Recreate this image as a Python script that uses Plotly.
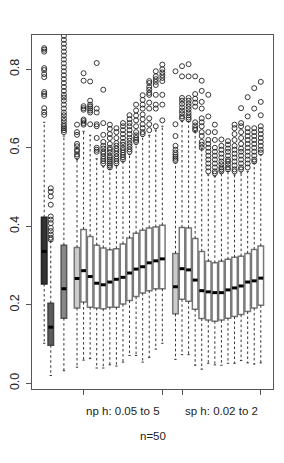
import plotly.graph_objects as go

# ---------------- data ----------------
positions = [1, 2, 4] + list(range(6, 20)) + list(range(21, 35))

q1 = [0.253, 0.097, 0.166,
      0.192, 0.207, 0.194, 0.192, 0.190, 0.194, 0.194, 0.202, 0.211, 0.221, 0.230, 0.236, 0.241, 0.241,
      0.177, 0.214, 0.209, 0.189, 0.165, 0.161, 0.158, 0.161, 0.166, 0.170, 0.175, 0.183, 0.192, 0.199]
medians = [0.336, 0.143, 0.241,
           0.267, 0.287, 0.272, 0.255, 0.251, 0.258, 0.265, 0.270, 0.281, 0.291, 0.297, 0.307, 0.312, 0.317,
           0.246, 0.292, 0.289, 0.263, 0.236, 0.233, 0.231, 0.231, 0.238, 0.243, 0.248, 0.258, 0.261, 0.268]
q3 = [0.423, 0.204, 0.352,
      0.346, 0.392, 0.374, 0.352, 0.345, 0.340, 0.343, 0.355, 0.370, 0.382, 0.390, 0.396, 0.398, 0.403,
      0.331, 0.397, 0.396, 0.369, 0.336, 0.311, 0.307, 0.311, 0.316, 0.321, 0.324, 0.331, 0.341, 0.350]
lower_whisker = [0.102, 0.020, 0.032,
                 0.041, 0.059, 0.063, 0.039, 0.039, 0.047, 0.044, 0.054, 0.071, 0.071, 0.054, 0.066, 0.087, 0.102,
                 0.061, 0.073, 0.073, 0.046, 0.036, 0.051, 0.047, 0.046, 0.051, 0.051, 0.058, 0.052, 0.049, 0.052]
upper_whisker = [0.665, 0.362, 0.630,
                 0.570, 0.642, 0.632, 0.572, 0.552, 0.546, 0.555, 0.566, 0.583, 0.609, 0.629, 0.632, 0.645, 0.655,
                 0.561, 0.667, 0.667, 0.642, 0.598, 0.531, 0.527, 0.536, 0.540, 0.531, 0.536, 0.540, 0.561, 0.582]

outliers = [
    [0.854, 0.850, 0.845, 0.803, 0.798, 0.788, 0.780, 0.742, 0.737, 0.732, 0.701, 0.691, 0.684],
    [0.497, 0.488, 0.476, 0.455, 0.425, 0.417, 0.408, 0.396, 0.388, 0.379, 0.371, 0.366],
    [0.640, 0.645, 0.650, 0.655, 0.660, 0.668, 0.675, 0.683, 0.690, 0.700, 0.710, 0.720, 0.728, 0.735,
     0.745, 0.755, 0.765, 0.775, 0.785, 0.795, 0.805, 0.815, 0.825, 0.835, 0.845, 0.855, 0.865, 0.875, 0.885],
    # np h
    [0.659, 0.640, 0.633, 0.610, 0.604, 0.595, 0.591, 0.583, 0.578],
    [0.790, 0.771, 0.706, 0.701, 0.697, 0.672, 0.668, 0.663, 0.659],
    [0.769, 0.720, 0.710, 0.705, 0.700, 0.695, 0.690, 0.660],
    [0.816, 0.700, 0.690, 0.660, 0.655, 0.625, 0.600, 0.595, 0.590],
    [0.748, 0.663, 0.633, 0.615, 0.605, 0.598, 0.590, 0.585, 0.578, 0.572, 0.566, 0.560],
    [0.659, 0.648, 0.635, 0.625, 0.610, 0.600, 0.595, 0.588, 0.580, 0.575, 0.570, 0.565, 0.560, 0.555, 0.550],
    [0.650, 0.640, 0.625, 0.612, 0.605, 0.598, 0.592, 0.585, 0.578, 0.572, 0.566, 0.560],
    [0.663, 0.655, 0.645, 0.635, 0.625, 0.615, 0.608, 0.600, 0.594, 0.588, 0.582, 0.576, 0.570],
    [0.683, 0.673, 0.663, 0.655, 0.645, 0.635, 0.625, 0.618, 0.610, 0.603, 0.596, 0.590],
    [0.710, 0.695, 0.682, 0.670, 0.655, 0.640, 0.632, 0.625, 0.620, 0.615],
    [0.734, 0.722, 0.710, 0.700, 0.685, 0.673, 0.660, 0.650, 0.640, 0.635],
    [0.770, 0.765, 0.755, 0.748, 0.740, 0.735, 0.715, 0.700, 0.675, 0.660, 0.645],
    [0.795, 0.782, 0.775, 0.768, 0.760, 0.735, 0.710, 0.700, 0.655],
    [0.812, 0.800, 0.792, 0.785, 0.778, 0.770, 0.735, 0.710, 0.670],
    # sp h
    [0.795, 0.660, 0.630, 0.605, 0.595, 0.588, 0.582, 0.577, 0.572, 0.567],
    [0.808, 0.782, 0.727, 0.720, 0.712, 0.703, 0.695, 0.688, 0.680, 0.675],
    [0.813, 0.782, 0.727, 0.720, 0.712, 0.705, 0.698, 0.690, 0.683, 0.677, 0.672],
    [0.782, 0.737, 0.725, 0.715, 0.705, 0.665, 0.657, 0.650, 0.645],
    [0.771, 0.745, 0.717, 0.700, 0.675, 0.665, 0.655, 0.640, 0.630, 0.615, 0.608, 0.600],
    [0.735, 0.680, 0.640, 0.620, 0.610, 0.600, 0.590, 0.580, 0.570, 0.560, 0.550, 0.540],
    [0.659, 0.640, 0.620, 0.600, 0.590, 0.580, 0.570, 0.560, 0.550, 0.540, 0.535],
    [0.621, 0.605, 0.595, 0.585, 0.575, 0.565, 0.558, 0.550, 0.545, 0.540],
    [0.617, 0.608, 0.598, 0.590, 0.580, 0.570, 0.565, 0.558, 0.550, 0.545],
    [0.659, 0.650, 0.635, 0.620, 0.605, 0.595, 0.585, 0.575, 0.565, 0.555, 0.545, 0.540],
    [0.701, 0.663, 0.655, 0.640, 0.625, 0.610, 0.598, 0.590, 0.580, 0.570, 0.560, 0.550, 0.545],
    [0.729, 0.680, 0.650, 0.640, 0.630, 0.620, 0.610, 0.600, 0.590, 0.580, 0.570, 0.560, 0.550],
    [0.752, 0.700, 0.650, 0.640, 0.630, 0.620, 0.610, 0.600, 0.590, 0.580, 0.570, 0.565],
    [0.768, 0.717, 0.683, 0.655, 0.645, 0.635, 0.625, 0.615, 0.605, 0.595, 0.588],
]

fill_colors = ["#333333", "#5c5c5c", "#878787"] + ["#cccccc"] + ["#ffffff"] * 13 + ["#cccccc"] + ["#ffffff"] * 13
line_colors = ["#222222", "#444444", "#555555"] + ["#777777"] * 28

axis_ticks = [7, 19, 22, 34]
group_labels = ["np h: 0.05 to 5", "sp h: 0.02 to 2"]
group_label_pos = [13, 28]
y_ticks = [0.0, 0.2, 0.4, 0.6, 0.8]
y_tick_labels = ["0.0", "0.2", "0.4", "0.6", "0.8"]
footer = "n=50"

BOX_W = 0.84
STAPLE_W = 0.35
FONT = "Liberation Sans, Arial, sans-serif"
FS = 11.5

fig = go.Figure()

# whiskers (dashed) + staples
wx, wy, sx, sy = [], [], [], []
for p, a, b, lo, hi in zip(positions, q1, q3, lower_whisker, upper_whisker):
    wx += [p, p, None, p, p, None]
    wy += [b, hi, None, a, lo, None]
    sx += [p - STAPLE_W / 2, p + STAPLE_W / 2, None, p - STAPLE_W / 2, p + STAPLE_W / 2, None]
    sy += [hi, hi, None, lo, lo, None]
fig.add_trace(go.Scatter(x=wx, y=wy, mode="lines", hoverinfo="skip",
                         line=dict(color="#333333", width=1, dash="2.5px,2.5px"), showlegend=False))
fig.add_trace(go.Scatter(x=sx, y=sy, mode="lines", hoverinfo="skip",
                         line=dict(color="#333333", width=1), showlegend=False))

# boxes
for i, p in enumerate(positions):
    fig.add_trace(go.Box(
        x=[p], q1=[q1[i]], median=[medians[i]], q3=[q3[i]],
        lowerfence=[q1[i]], upperfence=[q3[i]],
        width=BOX_W, fillcolor=fill_colors[i],
        line=dict(color=line_colors[i], width=1.5),
        whiskerwidth=0, boxpoints=False, showlegend=False, hoverinfo="skip",
    ))

# medians (thick black)
mx, my = [], []
for p, m in zip(positions, medians):
    mx += [p - BOX_W / 2 + 0.05, p + BOX_W / 2 - 0.05, None]
    my += [m, m, None]
fig.add_trace(go.Scatter(x=mx, y=my, mode="lines", hoverinfo="skip",
                         line=dict(color="#000000", width=3), showlegend=False))

# outliers
ox, oy = [], []
for p, vals in zip(positions, outliers):
    ox += [p] * len(vals)
    oy += vals
fig.add_trace(go.Scatter(x=ox, y=oy, mode="markers", hoverinfo="skip", cliponaxis=True,
                         marker=dict(symbol="circle-open", size=5, color="#222222",
                                     line=dict(width=0.9, color="#222222")),
                         showlegend=False))

annotations = []
for lab, xp in zip(group_labels, group_label_pos):
    annotations.append(dict(x=xp, y=-0.061, xref="x", yref="paper", text=lab, showarrow=False,
                            xanchor="center", yanchor="middle",
                            font=dict(family=FONT, size=FS, color="#222222")))
annotations.append(dict(x=0.5, y=-0.133, xref="paper", yref="paper", text=footer, showarrow=False,
                        xanchor="center", yanchor="middle",
                        font=dict(family=FONT, size=FS, color="#222222")))

fig.update_layout(
    width=284, height=463,
    margin=dict(l=24, r=19, t=27, b=82, autoexpand=False),
    paper_bgcolor="white", plot_bgcolor="white",
    font=dict(family=FONT, size=FS, color="#222222"),
    annotations=annotations,
    xaxis=dict(range=[-0.86, 35.86], showgrid=False, zeroline=False, automargin=False,
               showline=True, mirror=True, linecolor="#555555", linewidth=1,
               tickmode="array", tickvals=axis_ticks, ticks="outside", ticklen=5,
               tickcolor="#555555", tickwidth=1, showticklabels=False),
    yaxis=dict(range=[-0.0145, 0.8874], showgrid=False, zeroline=False, automargin=False,
               showline=True, mirror=True, linecolor="#555555", linewidth=1,
               tickmode="array", tickvals=y_ticks, ticktext=y_tick_labels,
               ticks="outside", ticklen=5, tickcolor="#555555", tickwidth=1,
               ticklabelstandoff=2,
               tickangle=-90, tickfont=dict(family=FONT, size=12.5, color="#222222")),
)

fig.write_html("out.html")
